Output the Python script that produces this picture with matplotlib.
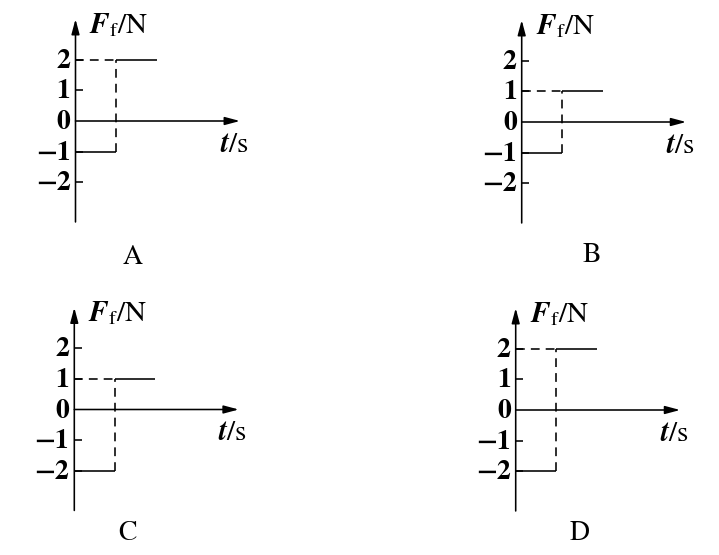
import matplotlib
matplotlib.use('Agg')
import matplotlib.pyplot as plt

# ---- data ----
panel_labels = ['A', 'B', 'C', 'D']
early_force = [-1, -1, -2, -2]      # friction before the switch (N)
late_force = [2, 1, 1, 2]           # friction after the switch (N)
switch_time = [1, 1, 1, 1]          # time of the switch (arbitrary units)
end_time = [2, 2, 2, 2]             # end of the drawn late segment
y_ticks = [-2, -1, 1, 2]
y_tick_values = [-2, -1, 0, 1, 2]
y_tick_labels = ['\u22122', '\u22121', '0', '1', '2']
y_axis_label = r'$\mathbfit{F}_{\mathrm{f}}/\mathrm{N}$'
x_axis_label = r'$\mathbfit{t}/\mathrm{s}$'

# ---- layout (pixels) ----
W, H = 719, 555
XU, YU = 40.5, 30.6                 # pixels per data unit
origins = [(75.5, 121.0), (521.7, 122.0), (74.3, 409.5), (515.7, 410.0)]
letter_offsets = [(57, -136), (70, -133), (53, -124), (64, -123)]
XMIN, XMAX, YMIN, YMAX = -2.2, 4.6, -5.0, 4.0
X_ARROW, Y_TOP, Y_BOT = 4.06, 3.33, -3.30

plt.rcParams['font.family'] = ['STIXGeneral', 'DejaVu Serif']
plt.rcParams['mathtext.fontset'] = 'stix'

fig = plt.figure(figsize=(W / 100, H / 100), dpi=100)
fig.patch.set_facecolor('white')

LW = 1.15
arrow_style = '-|>,head_length=0.9,head_width=0.24'

for i in range(4):
    ox, oy = origins[i]
    left = ox + XMIN * XU
    bottom = (H - oy) + YMIN * YU
    ax = fig.add_axes([left / W, bottom / H,
                       (XMAX - XMIN) * XU / W, (YMAX - YMIN) * YU / H])
    ax.set_xlim(XMIN, XMAX)
    ax.set_ylim(YMIN, YMAX)
    ax.axis('off')

    # axes with arrows
    ax.annotate('', xy=(0, Y_TOP), xytext=(0, Y_BOT),
                arrowprops=dict(arrowstyle=arrow_style, lw=LW, color='black',
                                shrinkA=0, shrinkB=0, mutation_scale=10))
    ax.annotate('', xy=(X_ARROW, 0), xytext=(0, 0),
                arrowprops=dict(arrowstyle=arrow_style, lw=LW, color='black',
                                shrinkA=0, shrinkB=0, mutation_scale=10))

    # tick marks (inward, to the right of the axis)
    for v in y_ticks:
        ax.plot([0, 7.5 / XU], [v, v], color='black', lw=LW,
                solid_capstyle='butt')
    # tick labels
    for v, s in zip(y_tick_values, y_tick_labels):
        ax.text(-5.0 / XU, v - 8.0 / YU, s, ha='right', va='baseline',
                fontsize=20, fontweight='bold', color='black')

    t1 = switch_time[i]
    t2 = end_time[i]
    f1 = early_force[i]
    f2 = late_force[i]
    # early (solid) segment
    ax.plot([0, t1], [f1, f1], color='black', lw=LW, solid_capstyle='butt')
    # late (solid) segment
    ax.plot([t1, t2], [f2, f2], color='black', lw=LW, solid_capstyle='butt')
    # dashed guides
    ax.plot([0, t1], [f2, f2], color='black', lw=LW, dashes=(5.5, 3.8))
    ax.plot([t1, t1], [f1, f2], color='black', lw=LW, dashes=(5.5, 3.8))

    # axis labels
    ax.text(14 / XU, 88 / YU, y_axis_label, ha='left', va='baseline',
            fontsize=21, color='black')
    ax.text(144 / XU, -31 / YU, x_axis_label, ha='left', va='baseline',
            fontsize=21, color='black')

    # panel letter
    dx, dy = letter_offsets[i]
    ax.text(dx / XU, dy / YU, panel_labels[i], ha='center', va='center',
            fontsize=20, color='black')

fig.savefig('out.png', dpi=100, facecolor='white')
